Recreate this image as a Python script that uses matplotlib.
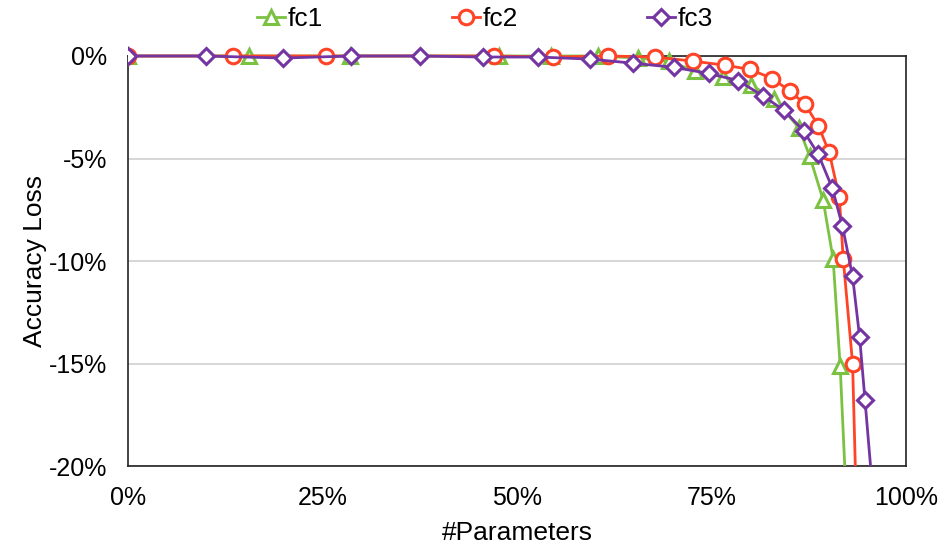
import matplotlib
matplotlib.use("Agg")
import matplotlib.pyplot as plt
from matplotlib.patches import Rectangle

plt.rcParams["font.family"] = ["Liberation Sans", "DejaVu Sans"]
plt.rcParams["axes.unicode_minus"] = False

# Fraction of parameters kept (%) vs accuracy loss (%)
fc1_x = [0, 15.5, 28.5, 47.7, 54.3, 60.4, 65.5, 69.5, 72.9, 76.4, 80.0, 83.0, 86.2, 87.6, 89.3, 90.6, 91.5, 92.7]
fc1_y = [0, 0, 0, 0, 0, 0, -0.1, -0.25, -0.75, -1.0, -1.4, -2.1, -3.5, -4.9, -7.0, -9.9, -15.1, -25.0]

fc2_x = [0, 13.5, 25.5, 47.0, 54.6, 61.7, 67.7, 72.6, 76.7, 79.9, 82.8, 85.0, 87.0, 88.7, 90.1, 91.4, 91.9, 93.1, 93.8]
fc2_y = [0, 0, 0, 0, -0.05, 0, -0.05, -0.25, -0.45, -0.65, -1.1, -1.7, -2.35, -3.4, -4.7, -6.9, -9.9, -15.0, -25.0]

fc3_x = [0, 10.0, 19.9, 28.7, 37.5, 45.6, 52.7, 59.3, 64.9, 70.1, 74.6, 78.4, 81.6, 84.3, 86.8, 88.7, 90.5, 91.8, 93.1, 94.0, 94.7, 95.85]
fc3_y = [0, 0, -0.1, 0, 0, -0.05, -0.05, -0.15, -0.35, -0.55, -0.85, -1.2, -1.95, -2.65, -3.65, -4.8, -6.45, -8.3, -10.75, -13.7, -16.8, -22.0]

series = [
    ("fc1", fc1_x, fc1_y, "#7CC242", "^"),
    ("fc2", fc2_x, fc2_y, "#FF4326", "o"),
    ("fc3", fc3_x, fc3_y, "#7435A3", "D"),
]

x_ticks = [0, 25, 50, 75, 100]
x_tick_labels = ["0%", "25%", "50%", "75%", "100%"]
y_ticks = [0, -5, -10, -15, -20]
y_tick_labels = ["0%", "-5%", "-10%", "-15%", "-20%"]

fig = plt.figure(figsize=(9.48, 5.49), dpi=100)
ax = fig.add_axes([0.135, 0.151, 0.821, 0.747])

# let markers sitting on the 0% line spill over the top frame, but cut lines at the bottom
clip = Rectangle((0, 0), 1, 1.1, transform=ax.transAxes, facecolor="none", edgecolor="none")
ax.add_patch(clip)

for i, (name, xs, ys, color, mk) in enumerate(series):
    ms = 10.5 if mk != "D" else 8
    line, = ax.plot(xs, ys, color=color, lw=2.0, marker=mk, markersize=ms,
                    markerfacecolor="white", markeredgecolor=color, markeredgewidth=2.2,
                    label=name, zorder=3 + i)
    line.set_clip_path(clip)

ax.set_xlim(0, 100)
ax.set_ylim(-20, 0)
ax.set_xticks(x_ticks)
ax.set_xticklabels(x_tick_labels)
ax.set_yticks(y_ticks)
ax.set_yticklabels(y_tick_labels)
ax.tick_params(axis="x", length=0, labelsize=18, pad=14)
ax.tick_params(axis="y", length=0, labelsize=18, pad=15)
ax.yaxis.grid(True, color="#D0D0D0", lw=1.2)
ax.set_axisbelow(True)
for s in ax.spines.values():
    s.set_color("#222222")
    s.set_linewidth(1.2)

ax.set_xlabel("#Parameters", fontsize=19, labelpad=8)
ax.set_ylabel("Accuracy Loss", fontsize=19, labelpad=1)

fig.legend(loc="center", bbox_to_anchor=(485 / 948, 1 - 19 / 549), ncol=3, frameon=False,
           fontsize=19, handlelength=1.05, handletextpad=0.1, columnspacing=4.9)

fig.savefig("out.png", dpi=100)
